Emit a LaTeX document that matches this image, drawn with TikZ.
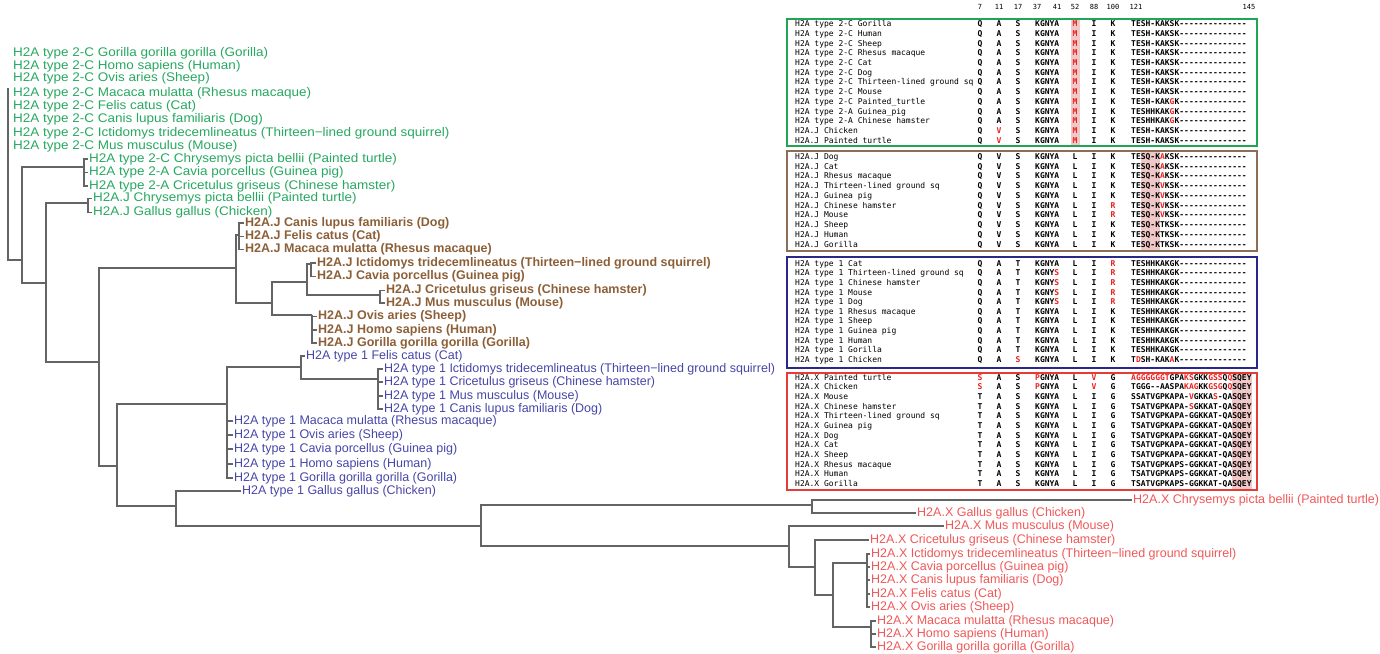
\documentclass[tikz,border=0pt]{standalone}
\usepackage{fontspec}
\setmainfont{Liberation Sans}
\setmonofont{DejaVu Sans Mono}
\newfontfamily\greenfont[FakeStretch=1.08]{Liberation Sans}
\usetikzlibrary{positioning,calc}

\definecolor{grpc}{RGB}{38,168,96}
\definecolor{grpj}{RGB}{140,95,55}
\definecolor{grpa}{RGB}{70,70,168}
\definecolor{grpx}{RGB}{240,88,88}
\definecolor{boxc}{RGB}{32,165,85}
\definecolor{boxj}{RGB}{140,110,85}
\definecolor{boxa}{RGB}{40,40,140}
\definecolor{boxx}{RGB}{230,60,55}
\definecolor{mut}{RGB}{235,30,30}
\definecolor{hilite}{RGB}{240,200,200}
\definecolor{branch}{RGB}{100,100,100}

\newcommand{\mt}[1]{\textcolor{mut}{#1}}

\tikzset{
  leaf/.style={anchor=mid west, inner sep=1pt, yshift=-1.5pt, font=\fontsize{12.5}{13}\selectfont},
  leafc/.style={leaf, text=grpc, font=\greenfont\fontsize{12.5}{13}\selectfont},
  leafj/.style={leaf, text=grpj, font=\fontsize{12.5}{13}\selectfont\bfseries},
  leafa/.style={leaf, text=grpa},
  leafx/.style={leaf, text=grpx},
  br/.style={draw=branch, line width=1.2pt},
  aln/.style={inner sep=0pt, text height=6pt, text depth=1.6pt, font=\ttfamily\fontsize{8}{9}\selectfont},
  res/.style={aln, font=\ttfamily\bfseries\fontsize{8}{9}\selectfont},
  hdr/.style={inner sep=0pt, font=\ttfamily\fontsize{7}{8}\selectfont},
  alnbox/.style={line width=2pt},
}

\begin{document}
\begin{tikzpicture}[x=1pt,y=-1pt]
    \useasboundingbox (0,0) rectangle (1380,653);

    % Alignment: column numbers
    \foreach \cx/\num in {980/7,999/11,1018/17,1037/37,1057/41,1075/52,1094/88,1113/100,1136/121,1249/145}
        \node[hdr] (h\num) at (\cx,7) {\num};

    % Alignment: shaded columns
    \fill[hilite] (1070.5,20) rectangle (1079.5,145);
    \fill[hilite] (1140.6,152) rectangle (1160,250);
    \fill[hilite] (1232,374) rectangle (1252,489);

    % Alignment: rows
    \foreach \y/\nm/\ca/\cb/\cc/\cd/\ce/\cf/\cg/\sq [count=\k] in {
        24.5/H2A type 2-C Gorilla/Q/A/S/KGNYA/\mt{M}/I/K/TESH-KAKSK--------------,
        34.2/H2A type 2-C Human/Q/A/S/KGNYA/\mt{M}/I/K/TESH-KAKSK--------------,
        43.9/H2A type 2-C Sheep/Q/A/S/KGNYA/\mt{M}/I/K/TESH-KAKSK--------------,
        53.6/H2A type 2-C Rhesus macaque/Q/A/S/KGNYA/\mt{M}/I/K/TESH-KAKSK--------------,
        63.3/H2A type 2-C Cat/Q/A/S/KGNYA/\mt{M}/I/K/TESH-KAKSK--------------,
        73.0/H2A type 2-C Dog/Q/A/S/KGNYA/\mt{M}/I/K/TESH-KAKSK--------------,
        82.7/H2A type 2-C Thirteen-lined ground sq/Q/A/S/KGNYA/\mt{M}/I/K/TESH-KAKSK--------------,
        92.4/H2A type 2-C Mouse/Q/A/S/KGNYA/\mt{M}/I/K/TESH-KAKSK--------------,
        102.1/H2A type 2-C Painted\_turtle/Q/A/S/KGNYA/\mt{M}/I/K/TESH-KAK\mt{G}K--------------,
        111.8/H2A type 2-A Guinea\_pig/Q/A/S/KGNYA/\mt{M}/I/K/TESHHKAK\mt{G}K--------------,
        121.5/H2A type 2-A Chinese hamster/Q/A/S/KGNYA/\mt{M}/I/K/TESHHKAK\mt{G}K--------------,
        131.2/H2A.J Chicken/Q/\mt{V}/S/KGNYA/\mt{M}/I/K/TESH-KAKSK--------------,
        140.9/H2A.J Painted turtle/Q/\mt{V}/S/KGNYA/\mt{M}/I/K/TESH-KAKSK--------------,
        % H2A.J
        157/H2A.J Dog/Q/V/S/KGNYA/L/I/K/TESQ-K\mt{A}KSK--------------,
        166.8/H2A.J Cat/Q/V/S/KGNYA/L/I/K/TESQ-K\mt{A}KSK--------------,
        176.5/H2A.J Rhesus macaque/Q/V/S/KGNYA/L/I/K/TESQ-K\mt{A}KSK--------------,
        186.3/H2A.J Thirteen-lined ground sq/Q/V/S/KGNYA/L/I/K/TESQ-K\mt{V}KSK--------------,
        196/H2A.J Guinea pig/Q/V/S/KGNYA/L/I/K/TESQ-K\mt{V}KSK--------------,
        205.8/H2A.J Chinese hamster/Q/V/S/KGNYA/L/I/\mt{R}/TESQ-K\mt{V}KSK--------------,
        215.5/H2A.J Mouse/Q/V/S/KGNYA/L/I/\mt{R}/TESQ-K\mt{V}KSK--------------,
        225.3/H2A.J Sheep/Q/V/S/KGNYA/L/I/K/TESQ-KTKSK--------------,
        235/H2A.J Human/Q/V/S/KGNYA/L/I/K/TESQ-KTKSK--------------,
        244.8/H2A.J Gorilla/Q/V/S/KGNYA/L/I/K/TESQ-KTKSK--------------,
        % H2A type 1
        264/H2A type 1 Cat/Q/A/T/KGNYA/L/I/\mt{R}/TESHHKAKGK--------------,
        273.6/H2A type 1 Thirteen-lined ground sq/Q/A/T/KGNY\mt{S}/L/I/\mt{R}/TESHHKAKGK--------------,
        283.2/H2A type 1 Chinese hamster/Q/A/T/KGNY\mt{S}/L/I/\mt{R}/TESHHKAKGK--------------,
        292.8/H2A type 1 Mouse/Q/A/T/KGNY\mt{S}/L/I/\mt{R}/TESHHKAKGK--------------,
        302.4/H2A type 1 Dog/Q/A/T/KGNY\mt{S}/L/I/\mt{R}/TESHHKAKGK--------------,
        312/H2A type 1 Rhesus macaque/Q/A/T/KGNYA/L/I/K/TESHHKAKGK--------------,
        321.6/H2A type 1 Sheep/Q/A/T/KGNYA/L/I/K/TESHHKAKGK--------------,
        331.2/H2A type 1 Guinea pig/Q/A/T/KGNYA/L/I/K/TESHHKAKGK--------------,
        340.8/H2A type 1 Human/Q/A/T/KGNYA/L/I/K/TESHHKAKGK--------------,
        350.4/H2A type 1 Gorilla/Q/A/T/KGNYA/L/I/K/TESHHKAKGK--------------,
        360/H2A type 1 Chicken/Q/A/\mt{S}/KGNYA/L/I/K/T\mt{D}SH-KAK\mt{A}K--------------,
        % H2A.X
        378/H2A.X Painted turtle/\mt{S}/A/S/\mt{P}GNYA/L/\mt{V}/G/\mt{AGGGGGGT}GPA\mt{KS}GKK\mt{GSS}Q\mt{Q}SQEY,
        387.6/H2A.X Chicken/\mt{S}/A/S/\mt{P}GNYA/L/\mt{V}/G/TGGG--AASPA\mt{KAG}KK\mt{GSG}Q\mt{Q}SQEY,
        397.3/H2A.X Mouse/T/A/S/KGNYA/L/I/G/SSATVGPKAPA-\mt{V}GKKA\mt{S}-QASQEY,
        406.9/H2A.X Chinese hamster/T/A/S/KGNYA/L/I/G/TSATVGPKAPA-\mt{S}GKKAT-QASQEY,
        416.6/H2A.X Thirteen-lined ground sq/T/A/S/KGNYA/L/I/G/TSATVGPKAPA-GGKKAT-QASQEY,
        426.2/H2A.X Guinea pig/T/A/S/KGNYA/L/I/G/TSATVGPKAPA-GGKKAT-QASQEY,
        435.8/H2A.X Dog/T/A/S/KGNYA/L/I/G/TSATVGPKAPA-GGKKAT-QASQEY,
        445.5/H2A.X Cat/T/A/S/KGNYA/L/I/G/TSATVGPKAPA-GGKKAT-QASQEY,
        455.1/H2A.X Sheep/T/A/S/KGNYA/L/I/G/TSATVGPKAPA-GGKKAT-QASQEY,
        464.8/H2A.X Rhesus macaque/T/A/S/KGNYA/L/I/G/TSATVGPKAPS-GGKKAT-QASQEY,
        474.4/H2A.X Human/T/A/S/KGNYA/L/I/G/TSATVGPKAPS-GGKKAT-QASQEY,
        484/H2A.X Gorilla/T/A/S/KGNYA/L/I/G/TSATVGPKAPS-GGKKAT-QASQEY}{
        \node[aln, anchor=west] (an\k) at (795,\y) {\nm};
        \node[res] (ca\k) at (980,\y) {\ca};
        \node[res] (cb\k) at (999,\y) {\cb};
        \node[res] (cc\k) at (1018,\y) {\cc};
        \node[res, anchor=west] (cd\k) at (1035,\y) {\cd};
        \node[res] (ce\k) at (1075,\y) {\ce};
        \node[res] (cf\k) at (1094,\y) {\cf};
        \node[res] (cg\k) at (1113,\y) {\cg};
        \node[res, anchor=west] (sq\k) at (1131,\y) {\sq};
    }

    % Alignment: group frames
    \draw[alnbox, boxc] (787,19) rectangle (1257,146);
    \draw[alnbox, boxj] (787,151) rectangle (1257,251);
    \draw[alnbox, boxa] (787,257) rectangle (1257,368);
    \draw[alnbox, boxx] (787,373) rectangle (1257,490);

    % Tree: H2A type 2-C / 2-A leaves
    \foreach \y/\t [count=\k] in {52/Gorilla gorilla gorilla (Gorilla), 65/Homo sapiens (Human),
        77/Ovis aries (Sheep), 92/Macaca mulatta (Rhesus macaque), 105/Felis catus (Cat),
        118.5/Canis lupus familiaris (Dog), 132/Ictidomys tridecemlineatus (Thirteen−lined ground squirrel),
        145.5/Mus musculus (Mouse)}
        \node[leafc] (c\k) at (12,\y) {H2A type 2-C \t};
    \node[leafc] (c9) at (88,158) {H2A type 2-C Chrysemys picta bellii (Painted turtle)};
    \node[leafc] (c10) at (88,171.5) {H2A type 2-A Cavia porcellus (Guinea pig)};
    \node[leafc] (c11) at (88,185) {H2A type 2-A Cricetulus griseus (Chinese hamster)};
    \node[leafc] (c12) at (92,197.5) {H2A.J Chrysemys picta bellii (Painted turtle)};
    \node[leafc] (c13) at (92,211.5) {H2A.J Gallus gallus (Chicken)};

    % Tree: H2A.J leaves
    \foreach \x/\y/\t [count=\k] in {244/222/Canis lupus familiaris (Dog), 244/235.5/Felis catus (Cat),
        244/248.5/Macaca mulatta (Rhesus macaque),
        316/262/Ictidomys tridecemlineatus (Thirteen−lined ground squirrel),
        316/275.5/Cavia porcellus (Guinea pig), 385/289.5/Cricetulus griseus (Chinese hamster),
        385/302/Mus musculus (Mouse), 317/315.5/Ovis aries (Sheep), 317/329/Homo sapiens (Human),
        317/342/Gorilla gorilla gorilla (Gorilla)}
        \node[leafj] (j\k) at (\x,\y) {H2A.J \t};

    % Tree: H2A type 1 leaves
    \foreach \x/\y/\t [count=\k] in {305/355/Felis catus (Cat),
        383/368/Ictidomys tridecemlineatus (Thirteen−lined ground squirrel),
        383/381/Cricetulus griseus (Chinese hamster), 383/395/Mus musculus (Mouse),
        383/408/Canis lupus familiaris (Dog), 233/420/Macaca mulatta (Rhesus macaque),
        233/434/Ovis aries (Sheep), 233/448/Cavia porcellus (Guinea pig), 233/463/Homo sapiens (Human),
        233/477/Gorilla gorilla gorilla (Gorilla), 241/490/Gallus gallus (Chicken)}
        \node[leafa] (t\k) at (\x,\y) {H2A type 1 \t};

    % Tree: H2A.X leaves
    \foreach \x/\y/\t [count=\k] in {1132/499/Chrysemys picta bellii (Painted turtle),
        916/512/Gallus gallus (Chicken), 944/525/Mus musculus (Mouse),
        869/539/Cricetulus griseus (Chinese hamster),
        870/553/Ictidomys tridecemlineatus (Thirteen−lined ground squirrel),
        870/566/Cavia porcellus (Guinea pig), 870/579/Canis lupus familiaris (Dog),
        870/593/Felis catus (Cat), 870/606/Ovis aries (Sheep), 876/620/Macaca mulatta (Rhesus macaque),
        876/633/Homo sapiens (Human), 876/646/Gorilla gorilla gorilla (Gorilla)}
        \node[leafx] (x\k) at (\x,\y) {H2A.X \t};

    % Tree: inner nodes
    \coordinate (r0) at (8,88);
    \coordinate (n22) at (22,260);
    \coordinate (n84) at (84,167);
    \coordinate (n46) at (46,283);
    \coordinate (n88) at (88,203);
    \coordinate (n99) at (99,362);
    \coordinate (n236) at (236,268);
    \coordinate (n239) at (239,235);
    \coordinate (n272) at (272,303);
    \coordinate (n307) at (307,282);
    \coordinate (n311) at (311,264);
    \coordinate (n380) at (380,295);
    \coordinate (n312) at (312,315);
    \coordinate (n117) at (117,466);
    \coordinate (n227) at (227,404);
    \coordinate (n301) at (301,367);
    \coordinate (n378) at (378,379);
    \coordinate (n176) at (176,506);
    \coordinate (n481) at (481,526);
    \coordinate (n812) at (812,505);
    \coordinate (n789) at (789,546);
    \coordinate (n815) at (815,567);
    \coordinate (n833) at (833,595);
    \coordinate (n867) at (867,563);
    \coordinate (n871) at (871,627);

    % Tree: branches
    \draw[br] (r0) |- (n22);
    \draw[br] (n22) |- (n84);
    \draw[br] (n22) |- (n46);
    \foreach \k in {9,10,11} \draw[br] (n84) |- (c\k.west);
    \draw[br] (n46) |- (n88);
    \draw[br] (n46) |- (n99);
    \foreach \k in {12,13} \draw[br] (n88) |- (c\k.west);
    \draw[br] (n99) |- (n236);
    \draw[br] (n99) |- (n117);
    \draw[br] (n236) |- (n239);
    \draw[br] (n236) |- (n272);
    \foreach \k in {1,2,3} \draw[br] (n239) |- (j\k.west);
    \draw[br] (n272) |- (n307);
    \draw[br] (n272) |- (n312);
    \draw[br] (n307) |- (n311);
    \draw[br] (n307) |- (n380);
    \foreach \k in {4,5} \draw[br] (n311) |- (j\k.west);
    \foreach \k in {6,7} \draw[br] (n380) |- (j\k.west);
    \foreach \k in {8,9,10} \draw[br] (n312) |- (j\k.west);
    \draw[br] (n117) |- (n227);
    \draw[br] (n117) |- (n176);
    \draw[br] (n227) |- (n301);
    \foreach \k in {6,...,10} \draw[br] (n227) |- (t\k.west);
    \draw[br] (n301) |- (t1.west);
    \draw[br] (n301) |- (n378);
    \foreach \k in {2,...,5} \draw[br] (n378) |- (t\k.west);
    \draw[br] (n176) |- (t11.west);
    \draw[br] (n176) |- (n481);
    \draw[br] (n481) |- (n812);
    \draw[br] (n481) |- (n789);
    \draw[br] (n812) |- (x1.west);
    \draw[br] (n812) |- (x2.west);
    \draw[br] (n789) |- (x3.west);
    \draw[br] (n789) |- (n815);
    \draw[br] (n815) |- (x4.west);
    \draw[br] (n815) |- (n833);
    \draw[br] (n833) |- (n867);
    \draw[br] (n833) |- (n871);
    \foreach \k in {5,...,9} \draw[br] (n867) |- (x\k.west);
    \foreach \k in {10,11,12} \draw[br] (n871) |- (x\k.west);
\end{tikzpicture}
\end{document}
